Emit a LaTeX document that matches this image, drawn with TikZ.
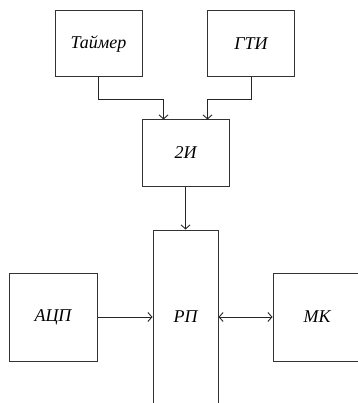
\documentclass[tikz,border=0pt]{standalone}
\usepackage{fontspec}
\setmainfont{Liberation Serif}
\usepackage{tikz}
\usetikzlibrary{arrows.meta}

\tikzset{
    blok/.style={draw=black!80,line width=1pt,minimum width=87pt,minimum height=66pt,
        inner sep=0pt,font=\fontsize{18}{21}\selectfont\itshape},
    svyaz/.style={draw=black!85,line width=0.9pt},
    strelka/.style={-{Straight Barb[length=4pt,width=9pt]}},
    dvestrelki/.style={{Straight Barb[length=4pt,width=9pt]}-{Straight Barb[length=4pt,width=9pt]}}
}

\begin{document}
\begin{tikzpicture}[x=1pt,y=-1pt]
        \useasboundingbox (0,0) rectangle (357,403);
        \node[blok] (taimer) at (98.5,44) {Таймер};
        \node[blok] (gti) at (251,44) {ГТИ};
        \node[blok] (i2) at (185.5,153) {2И};
        \node[blok,minimum width=65pt,minimum height=260pt] (rp) at (185.5,360) {};
        \node[blok,minimum width=88pt,minimum height=88pt] (acp) at (53,317) {АЦП};
        \node[blok,minimum width=88pt,minimum height=88pt] (mk) at (317,317) {МК};
        \node[font=\fontsize{18}{21}\selectfont\itshape] (rptext) at (185.5,317) {РП};
        \draw[svyaz,strelka] (taimer.south) -- ++(0,22) -| ([xshift=-22pt]i2.north);
        \draw[svyaz,strelka] (gti.south) -- ++(0,22) -| ([xshift=22pt]i2.north);
        \draw[svyaz,strelka] (i2.south) -- (rp.north);
        \draw[svyaz,strelka] (acp.east) -- (acp.east -| rp.west);
        \draw[svyaz,dvestrelki] (mk.west -| rp.east) -- (mk.west);
    \end{tikzpicture}
\end{document}
